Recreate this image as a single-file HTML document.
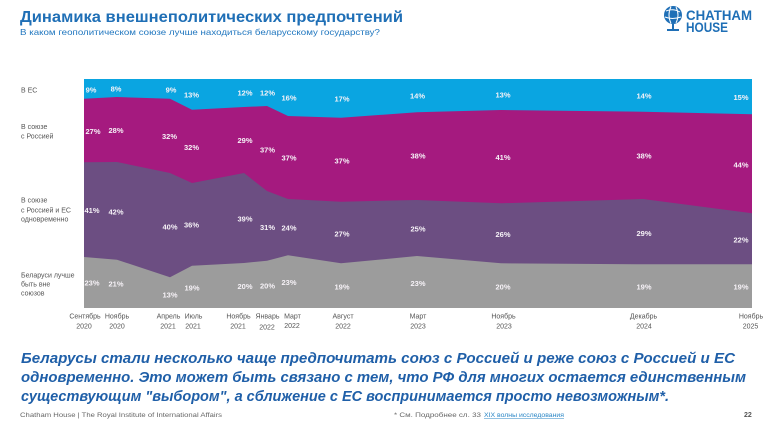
<!DOCTYPE html>
<html>
<head>
<meta charset="utf-8">
<style>
html,body{margin:0;padding:0;background:#fff;}
svg{display:block;}
text{font-family:"Liberation Sans","Noto Sans CJK SC",sans-serif;}
.v{font-size:7.5px;font-weight:bold;fill:#f6f2f7;text-anchor:middle;}
.ax{font-size:7px;fill:#555;text-anchor:middle;}
.lg{font-size:7px;fill:#555;}
.bt{font-size:14.5px;font-weight:bold;font-style:italic;fill:#1f5fa8;}
</style>
</head>
<body>
<svg width="768" height="429" viewBox="0 0 768 429" xmlns="http://www.w3.org/2000/svg">
<rect width="768" height="429" fill="#fff"/>

<!-- Title -->
<text x="20" y="22" font-size="16" font-weight="bold" fill="#1f6fb6" textLength="383" lengthAdjust="spacingAndGlyphs">Динамика внешнеполитических предпочтений</text>
<text x="20" y="35" font-size="8.5" fill="#1f76bf" textLength="360" lengthAdjust="spacingAndGlyphs">В каком геополитическом союзе лучше находиться беларусскому государству?</text>

<!-- Logo -->
<g>
<circle cx="673" cy="15" r="9" fill="#1f6fb6"/>
<path d="M666 11 Q673 8 680 12 M665 17 Q672 20 681 17 M671 6.5 Q667 15 671 23.5 M676 7 Q680 15 676 23" stroke="#fff" stroke-width="1" fill="none"/>
<rect x="672" y="24" width="2" height="5" fill="#1f6fb6"/>
<rect x="667" y="29" width="12" height="2" fill="#1f6fb6"/>
<text x="686" y="20" font-size="13.5" font-weight="bold" fill="#1f6fb6" textLength="66" lengthAdjust="spacingAndGlyphs">CHATHAM</text>
<text x="686" y="32" font-size="13.5" font-weight="bold" fill="#1f6fb6" textLength="42" lengthAdjust="spacingAndGlyphs">HOUSE</text>
</g>

<!-- Chart areas -->
<rect x="84" y="79" width="668" height="229" fill="#0aa5e1"/>
<polygon fill="#a51a7f" points="84,98.7 117,97 170,98.7 192,109.7 244,107 267,106 288,116 341,117.7 417,112.3 501,110 643,111.7 752,114.3 752,308 84,308"/>
<polygon fill="#6c4e82" points="84,162.3 117,162 170,173 192,183 244,173 267,191 288,199 341,201.7 417,200 501,203.3 643,199 752,213.3 752,308 84,308"/>
<polygon fill="#9c9c9c" points="84,257 117,259.7 170,277.3 192,265.7 244,263 267,260.7 288,255.3 341,263.3 417,256 501,263.3 643,264.3 752,264.3 752,308 84,308"/>

<!-- Value labels: EU -->
<text class="v" x="91" y="92.4">9%</text>
<text class="v" x="116" y="91.4">8%</text>
<text class="v" x="171" y="92.4">9%</text>
<text class="v" x="191.5" y="97.4">13%</text>
<text class="v" x="245" y="95.7">12%</text>
<text class="v" x="267.5" y="95.7">12%</text>
<text class="v" x="289" y="100.7">16%</text>
<text class="v" x="342" y="101.7">17%</text>
<text class="v" x="417.5" y="98.7">14%</text>
<text class="v" x="503" y="97.7">13%</text>
<text class="v" x="644" y="98.7">14%</text>
<text class="v" x="741" y="100">15%</text>
<!-- Russia -->
<text class="v" x="93" y="134">27%</text>
<text class="v" x="116" y="133">28%</text>
<text class="v" x="169.5" y="139">32%</text>
<text class="v" x="191.5" y="150">32%</text>
<text class="v" x="245" y="143">29%</text>
<text class="v" x="267.5" y="152.4">37%</text>
<text class="v" x="289" y="160.7">37%</text>
<text class="v" x="342" y="163.4">37%</text>
<text class="v" x="418" y="158.7">38%</text>
<text class="v" x="503" y="160">41%</text>
<text class="v" x="644" y="158.7">38%</text>
<text class="v" x="741" y="167.7">44%</text>
<!-- Both -->
<text class="v" x="92" y="213">41%</text>
<text class="v" x="116" y="214.7">42%</text>
<text class="v" x="170" y="229.7">40%</text>
<text class="v" x="191.5" y="227.4">36%</text>
<text class="v" x="245" y="221.7">39%</text>
<text class="v" x="267.5" y="230">31%</text>
<text class="v" x="289" y="230.7">24%</text>
<text class="v" x="342" y="236.7">27%</text>
<text class="v" x="418" y="231.4">25%</text>
<text class="v" x="503" y="237">26%</text>
<text class="v" x="644" y="236">29%</text>
<text class="v" x="741" y="242.7">22%</text>
<!-- None -->
<text class="v" x="92" y="285.7">23%</text>
<text class="v" x="116" y="286.7">21%</text>
<text class="v" x="170" y="297.4">13%</text>
<text class="v" x="192" y="290.7">19%</text>
<text class="v" x="245" y="289">20%</text>
<text class="v" x="267.5" y="288.4">20%</text>
<text class="v" x="289" y="285.2">23%</text>
<text class="v" x="342" y="289.4">19%</text>
<text class="v" x="418" y="286">23%</text>
<text class="v" x="503" y="289.4">20%</text>
<text class="v" x="644" y="289.4">19%</text>
<text class="v" x="741" y="289.4">19%</text>

<!-- Legend labels left -->
<text class="lg" x="21" y="92.5">В ЕС</text>
<text class="lg" x="21" y="129">В союзе</text>
<text class="lg" x="21" y="138.5">с Россией</text>
<text class="lg" x="21" y="202.5">В союзе</text>
<text class="lg" x="21" y="212.5">с Россией и ЕС</text>
<text class="lg" x="21" y="221.5">одновременно</text>
<text class="lg" x="21" y="277.5">Беларуси лучше</text>
<text class="lg" x="21" y="286.5">быть вне</text>
<text class="lg" x="21" y="295.5">союзов</text>

<!-- X axis labels -->
<text class="ax" x="85" y="318.5">Сентябрь</text><text class="ax" x="84" y="328.5">2020</text>
<text class="ax" x="117" y="318.5">Ноябрь</text><text class="ax" x="117" y="328.5">2020</text>
<text class="ax" x="168.5" y="318.5">Апрель</text><text class="ax" x="168" y="328.5">2021</text>
<text class="ax" x="193.5" y="318.5">Июль</text><text class="ax" x="193" y="328.5">2021</text>
<text class="ax" x="238.5" y="318.5">Ноябрь</text><text class="ax" x="238" y="328.5">2021</text>
<text class="ax" x="267.5" y="318.5">Январь</text><text class="ax" x="267" y="329.5">2022</text>
<text class="ax" x="292.5" y="318.5">Март</text><text class="ax" x="292" y="328">2022</text>
<text class="ax" x="343" y="318.5">Август</text><text class="ax" x="343" y="328.5">2022</text>
<text class="ax" x="418" y="318.5">Март</text><text class="ax" x="418" y="328.5">2023</text>
<text class="ax" x="503.5" y="318.5">Ноябрь</text><text class="ax" x="504" y="328.5">2023</text>
<text class="ax" x="643.5" y="318.5">Декабрь</text><text class="ax" x="644" y="328.5">2024</text>
<text class="ax" x="751" y="318.5">Ноябрь</text><text class="ax" x="750.5" y="328.5">2025</text>

<!-- Bottom statement -->
<text class="bt" x="21" y="363" textLength="714" lengthAdjust="spacingAndGlyphs">Беларусы стали несколько чаще предпочитать союз с Россией и реже союз с Россией и ЕС</text>
<text class="bt" x="21" y="382" textLength="725" lengthAdjust="spacingAndGlyphs">одновременно. Это может быть связано с тем, что РФ для многих остается единственным</text>
<text class="bt" x="21" y="401" textLength="648" lengthAdjust="spacingAndGlyphs">существующим "выбором", а сближение с ЕС воспринимается просто невозможным*.</text>

<!-- Footer -->
<text x="20" y="417" font-size="6.5" fill="#666" textLength="202" lengthAdjust="spacingAndGlyphs">Chatham House  |  The Royal Institute of International Affairs</text>
<text x="394" y="417" font-size="6.5" fill="#666" textLength="87" lengthAdjust="spacingAndGlyphs">* См. Подробнее сл. 33</text>
<text x="484" y="417" font-size="6.5" fill="#2a86c6" textLength="80" lengthAdjust="spacingAndGlyphs">XIX волны исследования</text>
<line x1="484" y1="418.3" x2="564" y2="418.3" stroke="#2a86c6" stroke-width="0.5"/>
<text x="744" y="417" font-size="7" font-weight="bold" fill="#555">22</text>
</svg>
</body>
</html>
